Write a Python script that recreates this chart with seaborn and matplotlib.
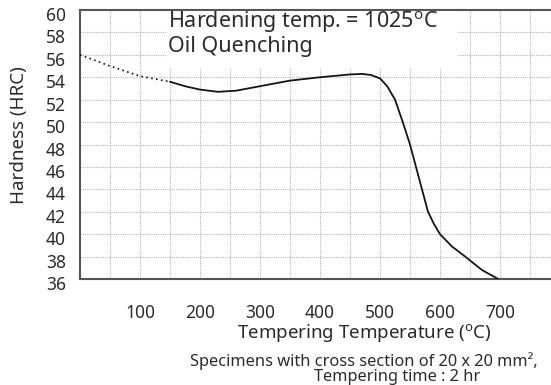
import matplotlib
matplotlib.use("Agg")
import matplotlib.pyplot as plt
import matplotlib.transforms as mtransforms
import seaborn as sns
import pandas as pd
from matplotlib.patches import Rectangle

# ---- data ----
dotted_temp = [0, 50, 100, 150]
dotted_hrc = [56.0, 55.0, 54.1, 53.6]

solid_temp = [150, 175, 200, 230, 260, 300, 350, 400, 450, 470, 485, 500, 512,
              525, 538, 550, 560, 570, 580, 590, 600, 620, 642, 670, 697]
solid_hrc = [53.6, 53.2, 52.9, 52.7, 52.8, 53.2, 53.7, 54.0, 54.25, 54.3, 54.2,
             53.9, 53.2, 52.0, 50.0, 48.0, 46.0, 44.0, 42.0, 40.9, 40.0, 38.9,
             38.0, 36.8, 36.0]

x_ticks = [100, 200, 300, 400, 500, 600, 700]
y_ticks = [36, 38, 40, 42, 44, 46, 48, 50, 52, 54, 56, 58, 60]

sns.set_theme(style="white")
plt.rcParams['font.family'] = ['Noto Sans', 'DejaVu Sans']
plt.rcParams['mathtext.fontset'] = 'custom'
plt.rcParams['mathtext.rm'] = 'Noto Sans'

W, H = 551, 385
fig = plt.figure(figsize=(W / 100, H / 100), dpi=100)
ax = fig.add_axes([80 / W, 1 - 279 / H, 1 - 80 / W, (279 - 10) / H])

txt = '#2b2b2b'
df_d = pd.DataFrame({'T': dotted_temp, 'HRC': dotted_hrc})
df_s = pd.DataFrame({'T': solid_temp, 'HRC': solid_hrc})
sns.lineplot(data=df_d, x='T', y='HRC', ax=ax, color='#151515', lw=1.2,
             linestyle=(0, (1, 2)), zorder=4)
sns.lineplot(data=df_s, x='T', y='HRC', ax=ax, color='#151515', lw=1.3, zorder=4)

ax.set_xlim(0, 785)
ax.set_ylim(36, 60)
ax.set_xticks(x_ticks)
ax.set_xticks(list(range(50, 800, 50)), minor=True)
ax.set_yticks(y_ticks)
ax.set_xticklabels([str(v) for v in x_ticks])
ax.set_yticklabels([str(v) for v in y_ticks])
ax.tick_params(axis='x', which='both', length=0, pad=18, labelsize=12.5, colors=txt)
ax.tick_params(axis='y', length=0, pad=10, labelsize=12.5, colors=txt)
ax.grid(True, which='both', axis='x', color='#b5b5b5', lw=0.8, linestyle=(0, (1, 1)))
ax.grid(True, which='major', axis='y', color='#b5b5b5', lw=0.8, linestyle=(0, (1, 1)))

shift = mtransforms.ScaledTranslation(0, -4 / 100, fig.dpi_scale_trans)
for lab in ax.get_yticklabels():
    lab.set_transform(lab.get_transform() + shift)

for s in ['left', 'bottom', 'top']:
    ax.spines[s].set_color('#555555')
    ax.spines[s].set_linewidth(1.5)
ax.spines['right'].set_visible(False)

ax.set_xlabel('')
ax.set_ylabel('')

# white box behind the annotation
box = Rectangle((167 / W, 1 - 68 / H), (458 - 167) / W, (68 - 11) / H,
                transform=fig.transFigure, facecolor='white', edgecolor='none', zorder=3)
box.set_clip_on(False)
ax.add_artist(box)
fig.text(168 / W, 1 - 28 / H, 'Hardening temp. = 1025$^{\\mathregular{o}}$C',
         fontsize=15.5, color=txt, ha='left', va='baseline', zorder=5)
fig.text(168 / W, 1 - 52 / H, 'Oil Quenching',
         fontsize=15.5, color=txt, ha='left', va='baseline', zorder=5)

fig.text(19 / W, 1 - 135 / H, 'Hardness (HRC)', rotation=90, ha='center', va='center',
         fontsize=13.5, color=txt)
fig.text(364 / W, 1 - 334 / H, 'Tempering Temperature ($^{\\mathregular{o}}$C)', ha='center',
         va='center', fontsize=13.5, color=txt)
fig.text(364 / W, 1 - 366 / H, 'Specimens with cross section of 20 x 20 mm\u00b2,',
         ha='center', va='baseline', fontsize=11.8, color=txt)
fig.text(397 / W, 1 - 381 / H, 'Tempering time : 2 hr', ha='center', va='baseline',
         fontsize=11.8, color=txt)

fig.savefig('out.png', dpi=100)
